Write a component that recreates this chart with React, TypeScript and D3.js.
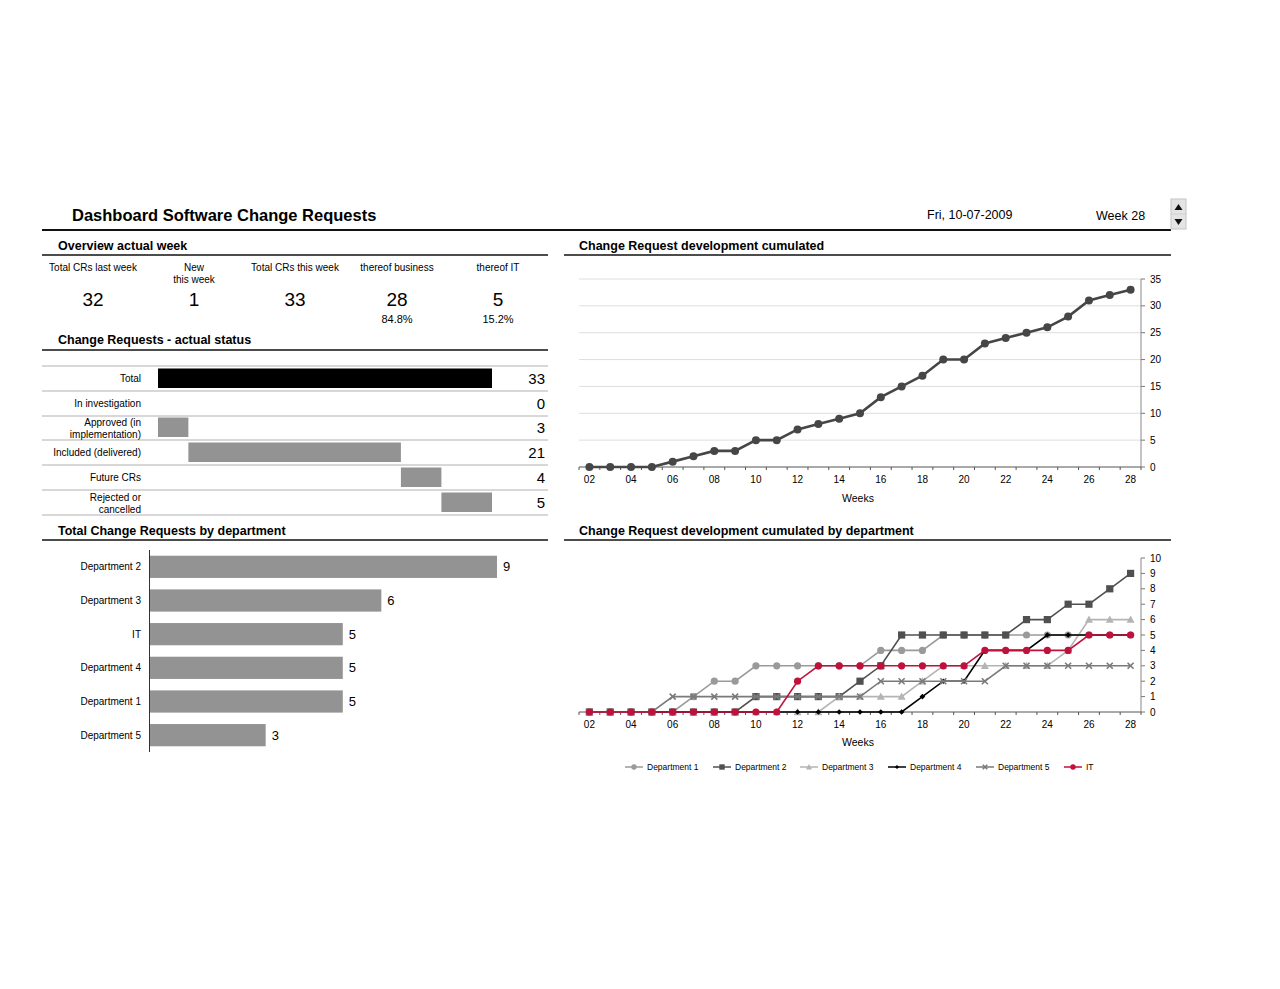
import React from 'react';
import * as d3 from 'd3';

const FONT = '"Liberation Sans", Arial, Helvetica, sans-serif';

// ---------- data ----------
const overviewLabels = [['Total CRs last week'], ['New', 'this week'], ['Total CRs this week'], ['thereof business'], ['thereof IT']];
const overviewValues = ['32', '1', '33', '28', '5'];
const overviewPercents = ['', '', '', '84.8%', '15.2%'];

const statusLabels = [['Total'], ['In investigation'], ['Approved (in', 'implementation)'], ['Included (delivered)'], ['Future CRs'], ['Rejected or', 'cancelled']];
const statusValues = [33, 0, 3, 21, 4, 5];

const deptNames = ['Department 2', 'Department 3', 'IT', 'Department 4', 'Department 1', 'Department 5'];
const deptTotals = [9, 6, 5, 5, 5, 3];

const weeks = [2, 3, 4, 5, 6, 7, 8, 9, 10, 11, 12, 13, 14, 15, 16, 17, 18, 19, 20, 21, 22, 23, 24, 25, 26, 27, 28];
const cumulatedTotal = [0, 0, 0, 0, 1, 2, 3, 3, 5, 5, 7, 8, 9, 10, 13, 15, 17, 20, 20, 23, 24, 25, 26, 28, 31, 32, 33];

const dept1 = [0, 0, 0, 0, 0, 1, 2, 2, 3, 3, 3, 3, 3, 3, 4, 4, 4, 5, 5, 5, 5, 5, 5, 5, 5, 5, 5];
const dept2 = [0, 0, 0, 0, 0, 0, 0, 0, 1, 1, 1, 1, 1, 2, 3, 5, 5, 5, 5, 5, 5, 6, 6, 7, 7, 8, 9];
const dept3 = [0, 0, 0, 0, 0, 0, 0, 0, 0, 0, 0, 0, 1, 1, 1, 1, 2, 3, 3, 3, 3, 3, 3, 4, 6, 6, 6];
const dept4 = [0, 0, 0, 0, 0, 0, 0, 0, 0, 0, 0, 0, 0, 0, 0, 0, 1, 2, 2, 4, 4, 4, 5, 5, 5, 5, 5];
const dept5 = [0, 0, 0, 0, 1, 1, 1, 1, 1, 1, 1, 1, 1, 1, 2, 2, 2, 2, 2, 2, 3, 3, 3, 3, 3, 3, 3];
const deptIT = [0, 0, 0, 0, 0, 0, 0, 0, 0, 0, 2, 3, 3, 3, 3, 3, 3, 3, 3, 4, 4, 4, 4, 4, 5, 5, 5];

const seriesNames = ['Department 1', 'Department 2', 'Department 3', 'Department 4', 'Department 5', 'IT'];
const seriesValues = [dept1, dept2, dept3, dept4, dept5, deptIT];
const seriesColors = ['#9a9a9a', '#505050', '#b4b4b4', '#000000', '#7a7a7a', '#c0103c'];
const seriesMarkers = ['circle', 'square', 'triangle', 'diamond', 'x', 'circle'];

const topYTicks = [0, 5, 10, 15, 20, 25, 30, 35];
const bottomYTicks = [0, 1, 2, 3, 4, 5, 6, 7, 8, 9, 10];

const pad2 = (w: number) => (w < 10 ? '0' + w : String(w));

function Marker({ type, x, y, color, size = 1 }: any) {
  if (type === 'circle') return <circle cx={x} cy={y} r={3.6 * size} fill={color} />;
  if (type === 'square') return <rect x={x - 3.6 * size} y={y - 3.6 * size} width={7.2 * size} height={7.2 * size} fill={color} />;
  if (type === 'triangle') {
    const s = 4 * size;
    return <path d={`M${x},${y - s} L${x + s},${y + s * 0.8} L${x - s},${y + s * 0.8} Z`} fill={color} />;
  }
  if (type === 'diamond') {
    const s = 2.8 * size;
    return <path d={`M${x},${y - s} L${x + s},${y} L${x},${y + s} L${x - s},${y} Z`} fill={color} />;
  }
  const s = 3 * size;
  return (
    <g stroke={color} strokeWidth={1.6}>
      <line x1={x - s} y1={y - s} x2={x + s} y2={y + s} />
      <line x1={x - s} y1={y + s} x2={x + s} y2={y - s} />
    </g>
  );
}

function SectionHeader({ x, y, x1, x2, lineY, text }: any) {
  return (
    <g>
      <text x={x} y={y} fontSize={12.5} fontWeight="bold" fill="#000">{text}</text>
      <line x1={x1} x2={x2} y1={lineY} y2={lineY} stroke="#111" strokeWidth={1.5} />
    </g>
  );
}

export default function App() {
  // week scale shared by both right-hand charts
  const xBand = d3.scaleBand<number>().domain(weeks).range([579, 1141]).padding(0);
  const bw = xBand.bandwidth();
  const xw = (w: number) => (xBand(w) as number) + bw / 2;
  const boundaries = weeks.map((w) => xBand(w) as number).concat([1141]);

  const yTop = d3.scaleLinear().domain([0, 35]).range([467, 279]);
  const yBot = d3.scaleLinear().domain([0, 10]).range([712, 558]);

  const topLine = d3.line<number>().x((_, i) => xw(weeks[i])).y((d) => yTop(d));
  const botLine = d3.line<number>().x((_, i) => xw(weeks[i])).y((d) => yBot(d));

  // status waterfall
  const xStatus = d3.scaleLinear().domain([0, 33]).range([158, 492]);
  const statusRowTop = [366, 391, 415, 440, 465, 490];
  const statusRowH = 25;
  const statusStart: number[] = [];
  {
    let acc = 0;
    statusValues.forEach((v, i) => {
      if (i === 0) statusStart.push(0);
      else {
        statusStart.push(acc);
        acc += v;
      }
    });
  }

  // dept bars
  const yDept = d3.scaleBand<string>().domain(deptNames).range([550, 752]).paddingInner(0.34).paddingOuter(0.17);
  const xDept = d3.scaleLinear().domain([0, 9]).range([150, 497]);

  const overviewCenters = [93, 194, 295, 397, 498];

  const legendX = [625, 713, 800, 888, 976, 1064];

  return (
    <svg width={1280} height={989} style={{ position: 'absolute', left: 0, top: 0, fontFamily: FONT }}>
      <rect x={0} y={0} width={1280} height={989} fill="#fff" />

      {/* Header */}
      <text x={72} y={221} fontSize={16.5} fontWeight="bold">Dashboard Software Change Requests</text>
      <text x={927} y={219} fontSize={12.5}>Fri, 10-07-2009</text>
      <text x={1096} y={220} fontSize={12.5}>Week 28</text>
      <line x1={42} x2={1171} y1={230} y2={230} stroke="#111" strokeWidth={2} />
      {/* spinner */}
      <g>
        <rect x={1171} y={199} width={15} height={30} fill="#e4e4e4" stroke="#c4c4c4" />
        <line x1={1171} x2={1186} y1={214} y2={214} stroke="#d0d0d0" />
        <path d="M1174.5,210 L1178.5,204 L1182.5,210 Z" fill="#111" />
        <path d="M1174.5,219 L1178.5,225 L1182.5,219 Z" fill="#111" />
      </g>

      {/* Overview */}
      <SectionHeader x={58} y={250} x1={42} x2={548} lineY={255} text="Overview actual week" />
      {overviewLabels.map((lines, i) => (
        <text key={'ol' + i} x={overviewCenters[i]} y={271} fontSize={10} textAnchor="middle">
          {lines.map((l, j) => (
            <tspan key={j} x={overviewCenters[i]} dy={j === 0 ? 0 : 12}>{l}</tspan>
          ))}
        </text>
      ))}
      {overviewValues.map((v, i) => (
        <text key={'ov' + i} x={overviewCenters[i]} y={306} fontSize={19} textAnchor="middle">{v}</text>
      ))}
      {overviewPercents.map((v, i) => (
        <text key={'op' + i} x={overviewCenters[i]} y={323} fontSize={11} textAnchor="middle">{v}</text>
      ))}

      {/* Status */}
      <SectionHeader x={58} y={344} x1={42} x2={548} lineY={350} text="Change Requests - actual status" />
      <line x1={42} x2={548} y1={366} y2={366} stroke="#b0b0b0" />
      {statusLabels.map((lines, i) => {
        const top = statusRowTop[i];
        const mid = top + statusRowH / 2;
        const v = statusValues[i];
        const x0 = xStatus(statusStart[i]);
        const x1 = xStatus(statusStart[i] + v);
        return (
          <g key={'s' + i}>
            <line x1={42} x2={548} y1={top + statusRowH} y2={top + statusRowH} stroke="#b0b0b0" />
            {v > 0 && (
              <rect x={x0} y={top + 2.5} width={x1 - x0} height={19.5} fill={i === 0 ? '#000' : '#939393'} />
            )}
            <text x={141} y={lines.length === 1 ? mid + 3.5 : mid - 2} fontSize={10} textAnchor="end">
              {lines.map((l, j) => (
                <tspan key={j} x={141} dy={j === 0 ? 0 : 12}>{l}</tspan>
              ))}
            </text>
            <text x={545} y={mid + 5.5} fontSize={15} textAnchor="end">{v}</text>
          </g>
        );
      })}

      {/* Dept bars */}
      <SectionHeader x={58} y={535} x1={42} x2={548} lineY={540} text="Total Change Requests by department" />
      {deptNames.map((d, i) => {
        const y = yDept(d) as number;
        const h = yDept.bandwidth();
        return (
          <g key={'d' + i}>
            <rect x={xDept(0)} y={y} width={xDept(deptTotals[i]) - xDept(0)} height={h} fill="#939393" />
            <text x={141} y={y + h / 2 + 3.5} fontSize={10} textAnchor="end">{d}</text>
            <text x={xDept(deptTotals[i]) + 6} y={y + h / 2 + 4.5} fontSize={13}>{deptTotals[i]}</text>
          </g>
        );
      })}
      <line x1={149.5} x2={149.5} y1={550} y2={752} stroke="#333" strokeWidth={1} />

      {/* Top right chart */}
      <SectionHeader x={579} y={250} x1={564} x2={1171} lineY={255} text="Change Request development cumulated" />
      {topYTicks.map((t) => (
        <g key={'ty' + t}>
          {t > 0 && <line x1={579} x2={1141} y1={yTop(t)} y2={yTop(t)} stroke="#dedede" strokeWidth={1} />}
          <line x1={1141} x2={1145} y1={yTop(t)} y2={yTop(t)} stroke="#777" />
          <text x={1150} y={yTop(t) + 3.5} fontSize={10}>{t}</text>
        </g>
      ))}
      <line x1={1141} x2={1141} y1={yTop(35)} y2={yTop(0)} stroke="#888" />
      <line x1={579} x2={1141} y1={yTop(0)} y2={yTop(0)} stroke="#555" />
      {boundaries.map((b, i) => (
        <line key={'tb' + i} x1={b} x2={b} y1={yTop(0)} y2={yTop(0) + 3} stroke="#555" />
      ))}
      {weeks.filter((w) => w % 2 === 0).map((w) => (
        <text key={'tx' + w} x={xw(w)} y={483} fontSize={10} textAnchor="middle">{pad2(w)}</text>
      ))}
      <text x={858} y={502} fontSize={10.5} textAnchor="middle">Weeks</text>
      <path d={topLine(cumulatedTotal) as string} fill="none" stroke="#464646" strokeWidth={2.6} />
      {cumulatedTotal.map((v, i) => (
        <circle key={'tc' + i} cx={xw(weeks[i])} cy={yTop(v)} r={4} fill="#464646" />
      ))}

      {/* Bottom right chart */}
      <SectionHeader x={579} y={535} x1={564} x2={1171} lineY={540} text="Change Request development cumulated by department" />
      {bottomYTicks.map((t) => (
        <g key={'by' + t}>
          <line x1={1141} x2={1145} y1={yBot(t)} y2={yBot(t)} stroke="#777" />
          <text x={1150} y={yBot(t) + 3.5} fontSize={10}>{t}</text>
        </g>
      ))}
      <line x1={1141} x2={1141} y1={yBot(10)} y2={yBot(0)} stroke="#888" />
      <line x1={579} x2={1141} y1={yBot(0)} y2={yBot(0)} stroke="#555" />
      {boundaries.map((b, i) => (
        <line key={'bb' + i} x1={b} x2={b} y1={yBot(0)} y2={yBot(0) + 3} stroke="#555" />
      ))}
      {weeks.filter((w) => w % 2 === 0).map((w) => (
        <text key={'bx' + w} x={xw(w)} y={728} fontSize={10} textAnchor="middle">{pad2(w)}</text>
      ))}
      <text x={858} y={746} fontSize={10.5} textAnchor="middle">Weeks</text>
      {seriesValues.map((vals, s) => (
        <g key={'ser' + s}>
          <path d={botLine(vals) as string} fill="none" stroke={seriesColors[s]} strokeWidth={1.6} />
          {vals.map((v, i) => (
            <Marker key={i} type={seriesMarkers[s]} x={xw(weeks[i])} y={yBot(v)} color={seriesColors[s]} />
          ))}
        </g>
      ))}

      {/* Legend */}
      {seriesNames.map((n, s) => (
        <g key={'lg' + s}>
          <line x1={legendX[s]} x2={legendX[s] + 18} y1={767} y2={767} stroke={seriesColors[s]} strokeWidth={1.5} />
          <Marker type={seriesMarkers[s]} x={legendX[s] + 9} y={767} color={seriesColors[s]} size={0.75} />
          <text x={legendX[s] + 22} y={770} fontSize={8.5}>{n}</text>
        </g>
      ))}
    </svg>
  );
}
